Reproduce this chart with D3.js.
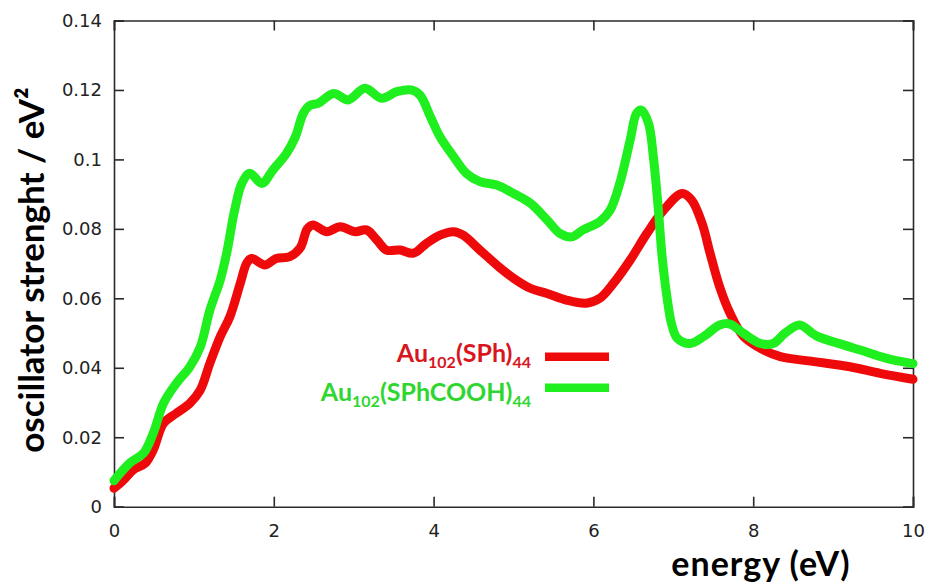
<!DOCTYPE html>
<html>
<head>
<meta charset="utf-8">
<script src="https://cdn.jsdelivr.net/npm/d3@7"></script>
<style>
  html, body { margin: 0; padding: 0; background: #ffffff; }
  svg { display: block; }
</style>
</head>
<body>
<svg id="chart" width="931" height="587"></svg>
<script>
// Absorption spectra of two gold clusters (oscillator strength vs. energy)
const sphEnergy = [0.00, 0.12, 0.24, 0.39, 0.49, 0.62, 0.78, 0.95, 1.08, 1.20, 1.33, 1.45, 1.58, 1.66, 1.72, 1.89, 2.03, 2.20, 2.33, 2.42, 2.49, 2.66, 2.83, 3.02, 3.16, 3.29, 3.41, 3.58, 3.75, 3.91, 4.08, 4.25, 4.37, 4.58, 4.83, 5.00, 5.21, 5.42, 5.66, 5.91, 6.08, 6.25, 6.46, 6.67, 6.88, 7.11, 7.23, 7.36, 7.46, 7.58, 7.71, 7.88, 8.09, 8.34, 8.69, 9.21, 9.59, 10.00];
const sphStrength = [0.0053, 0.0077, 0.0106, 0.0125, 0.0163, 0.0240, 0.0269, 0.0298, 0.0336, 0.0413, 0.0490, 0.0547, 0.0643, 0.0701, 0.0715, 0.0696, 0.0715, 0.0720, 0.0745, 0.0800, 0.0811, 0.0792, 0.0806, 0.0792, 0.0797, 0.0768, 0.0739, 0.0739, 0.0730, 0.0758, 0.0782, 0.0792, 0.0782, 0.0739, 0.0688, 0.0658, 0.0629, 0.0614, 0.0595, 0.0586, 0.0600, 0.0643, 0.0710, 0.0787, 0.0854, 0.0902, 0.0883, 0.0816, 0.0730, 0.0633, 0.0557, 0.0490, 0.0456, 0.0432, 0.0420, 0.0403, 0.0384, 0.0367];

const coohEnergy = [0.00, 0.20, 0.37, 0.49, 0.62, 0.78, 0.95, 1.08, 1.20, 1.33, 1.41, 1.51, 1.60, 1.70, 1.85, 1.99, 2.16, 2.27, 2.37, 2.45, 2.56, 2.75, 2.93, 3.14, 3.35, 3.54, 3.72, 3.83, 3.96, 4.08, 4.25, 4.41, 4.58, 4.79, 5.00, 5.21, 5.42, 5.58, 5.73, 5.87, 6.08, 6.21, 6.33, 6.46, 6.54, 6.60, 6.69, 6.75, 6.81, 6.86, 6.92, 6.98, 7.05, 7.21, 7.38, 7.58, 7.71, 7.88, 8.09, 8.25, 8.40, 8.58, 8.79, 9.13, 9.34, 9.67, 10.00];
const coohStrength = [0.0075, 0.0126, 0.0154, 0.0211, 0.0298, 0.0355, 0.0403, 0.0460, 0.0566, 0.0653, 0.0730, 0.0854, 0.0931, 0.0960, 0.0931, 0.0970, 0.1018, 0.1065, 0.1133, 0.1155, 0.1162, 0.1190, 0.1171, 0.1205, 0.1176, 0.1195, 0.1200, 0.1185, 0.1123, 0.1065, 0.1008, 0.0960, 0.0936, 0.0926, 0.0902, 0.0874, 0.0826, 0.0787, 0.0777, 0.0797, 0.0821, 0.0854, 0.0931, 0.1056, 0.1133, 0.1142, 0.1104, 0.1008, 0.0864, 0.0720, 0.0605, 0.0525, 0.0485, 0.0470, 0.0490, 0.0523, 0.0526, 0.0499, 0.0470, 0.0470, 0.0500, 0.0523, 0.0492, 0.0466, 0.0451, 0.0427, 0.0412];

const xTickValues = [0, 2, 4, 6, 8, 10];
const xTickLabels = ["0", "2", "4", "6", "8", "10"];
const yTickValues = [0, 0.02, 0.04, 0.06, 0.08, 0.1, 0.12, 0.14];
const yTickLabels = ["0", "0.02", "0.04", "0.06", "0.08", "0.1", "0.12", "0.14"];

const seriesNames = ["SPh", "SPhCOOH"];

const svg = d3.select("#chart");
const plot = { left: 114, right: 913, top: 20.5, bottom: 506.7 };

const x = d3.scaleLinear().domain([0, 10]).range([plot.left, plot.right]);
const y = d3.scaleLinear().domain([0, 0.14]).range([plot.bottom, plot.top]);

const tickFont = "'DejaVu Sans', sans-serif";
const axisColor = "#2a2a2a";

// bottom axis with labels, ticks pointing inward
const gx = svg.append("g")
  .attr("transform", `translate(0,${plot.bottom})`)
  .call(d3.axisBottom(x).tickValues(xTickValues)
    .tickFormat((d, i) => xTickLabels[i]).tickSize(-10).tickPadding(18));
// left axis with labels
const gy = svg.append("g")
  .attr("transform", `translate(${plot.left},0)`)
  .call(d3.axisLeft(y).tickValues(yTickValues)
    .tickFormat((d, i) => yTickLabels[i]).tickSize(-10).tickPadding(12));
// mirrored top and right axes without labels
const gt = svg.append("g")
  .attr("transform", `translate(0,${plot.top})`)
  .call(d3.axisTop(x).tickValues(xTickValues).tickFormat("").tickSize(-10));
const gr = svg.append("g")
  .attr("transform", `translate(${plot.right},0)`)
  .call(d3.axisRight(y).tickValues(yTickValues).tickFormat("").tickSize(-10));

[gx, gy, gt, gr].forEach(g => {
  g.select(".domain").attr("stroke", axisColor).attr("stroke-width", 1.6);
  g.selectAll(".tick line").attr("stroke", axisColor).attr("stroke-width", 1.6);
  g.selectAll(".tick text")
    .attr("font-family", tickFont)
    .attr("font-size", 18)
    .attr("fill", "#222");
});

// spectra
const line = d3.line()
  .x(d => x(d[0]))
  .y(d => y(d[1]))
  .curve(d3.curveCatmullRom.alpha(0.5));

const sphData = sphEnergy.map((e, i) => [e, sphStrength[i]]);
const coohData = coohEnergy.map((e, i) => [e, coohStrength[i]]);

const red = "#ee0a0a";
const green = "#1fee1f";

svg.append("path")
  .datum(sphData)
  .attr("d", line)
  .attr("fill", "none")
  .attr("stroke", red)
  .attr("stroke-width", 9)
  .attr("stroke-linejoin", "round")
  .attr("stroke-linecap", "round");

svg.append("path")
  .datum(coohData)
  .attr("d", line)
  .attr("fill", "none")
  .attr("stroke", green)
  .attr("stroke-width", 9)
  .attr("stroke-linejoin", "round")
  .attr("stroke-linecap", "round");

// axis titles
const titleFont = "Lato, 'Open Sans', sans-serif";
svg.append("text")
  .attr("transform", "translate(44,270) rotate(-90)")
  .attr("text-anchor", "middle")
  .attr("font-family", titleFont)
  .attr("font-weight", "bold")
  .attr("font-size", 35)
  .attr("fill", "#000")
  .text("oscillator strenght / eV²");

svg.append("text")
  .attr("x", 761)
  .attr("y", 576)
  .attr("text-anchor", "middle")
  .attr("font-family", titleFont)
  .attr("font-weight", "bold")
  .attr("font-size", 34)
  .attr("letter-spacing", 1)
  .attr("fill", "#000")
  .text("energy (eV)");

// legend
const legendItems = [
  { name: seriesNames[0], stroke: red, textColor: "#d8161e", baseline: 362, lineY: 356.7 },
  { name: seriesNames[1], stroke: green, textColor: "#2fd62f", baseline: 401, lineY: 387.7 }
];

legendItems.forEach(item => {
  const t = svg.append("text")
    .attr("x", 531)
    .attr("y", item.baseline)
    .attr("text-anchor", "end")
    .attr("font-family", titleFont)
    .attr("font-weight", "bold")
    .attr("font-size", 25)
    .attr("fill", item.textColor);
  t.append("tspan").text("Au");
  t.append("tspan").attr("font-size", 16).attr("dy", 6).text("102");
  t.append("tspan").attr("dy", -6).text(`(${item.name})`);
  t.append("tspan").attr("font-size", 16).attr("dy", 6).text("44");

  svg.append("line")
    .attr("x1", 545).attr("x2", 609)
    .attr("y1", item.lineY).attr("y2", item.lineY)
    .attr("stroke", item.stroke)
    .attr("stroke-width", 8.5);
});
</script>
</body>
</html>
